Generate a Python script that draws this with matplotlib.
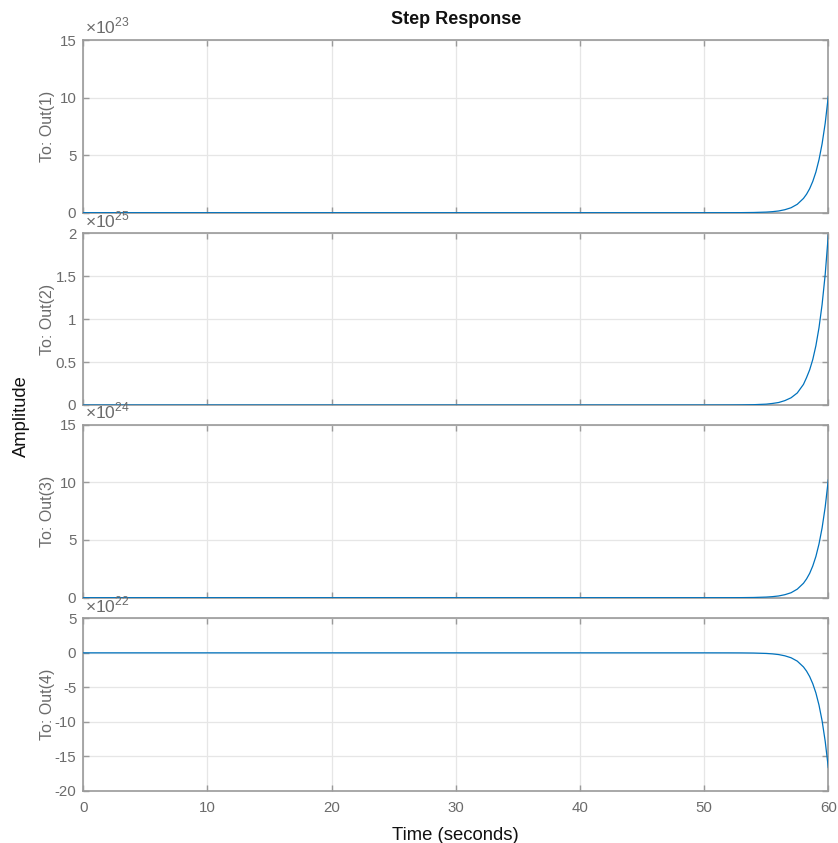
import matplotlib
matplotlib.use("Agg")
import matplotlib.pyplot as plt
from matplotlib.ticker import FuncFormatter

plt.rcParams['font.family'] = ['Liberation Sans', 'DejaVu Sans']
plt.rcParams['mathtext.fontset'] = 'custom'
plt.rcParams['mathtext.rm'] = 'Liberation Sans'

# ---- data ----
time_s = [0, 50, 52, 53, 54, 55, 55.5, 56, 56.5, 57, 57.5, 58, 58.25, 58.5,
          58.75, 59, 59.25, 59.5, 59.75, 60]
out1 = [0, 0.0003, 0.0023, 0.0065, 0.019, 0.053, 0.090, 0.15, 0.26, 0.43,
        0.73, 1.24, 1.61, 2.09, 2.72, 3.53, 4.60, 5.98, 7.77, 10.1]          # x1e23
out2 = [0, 0.00006, 0.00045, 0.0013, 0.0037, 0.010, 0.018, 0.029, 0.051,
        0.084, 0.14, 0.24, 0.32, 0.41, 0.53, 0.69, 0.90, 1.17, 1.52, 1.98]    # x1e25
out3 = [0, 0.0003, 0.0023, 0.0066, 0.019, 0.054, 0.091, 0.15, 0.26, 0.43,
        0.74, 1.25, 1.63, 2.11, 2.75, 3.57, 4.65, 6.04, 7.85, 10.2]          # x1e24
out4 = [0, -0.0005, -0.0038, -0.011, -0.031, -0.087, -0.148, -0.25, -0.43,
        -0.71, -1.20, -2.04, -2.65, -3.44, -4.47, -5.80, -7.56, -9.83, -12.8,
        -16.6]                                                                # x1e22
series = [out1, out2, out3, out4]
exponents = [23, 25, 24, 22]
ylims = [(0, 15), (0, 2), (0, 15), (-20, 5)]
yticks = [[0, 5, 10, 15], [0, 0.5, 1, 1.5, 2], [0, 5, 10, 15],
          [-20, -15, -10, -5, 0, 5]]
ylabels = ['To: Out(1)', 'To: Out(2)', 'To: Out(3)', 'To: Out(4)']
xticks = [0, 10, 20, 30, 40, 50, 60]

W, H = 838, 843
fig = plt.figure(figsize=(W / 100, H / 100), dpi=100)

# axes boxes in pixels (top, bottom)
boxes = [(40, 212.7), (233.3, 405), (424.5, 597.7), (618.3, 791)]
left_px, right_px = 83.3, 828.3

spine_c = '#9a9a9a'
text_c = '#6b6b6b'
line_c = '#0072BD'
grid_c = '#e6e6e6'

fmt = FuncFormatter(lambda v, p: ('%g' % v))

axes = []
for i, (top, bot) in enumerate(boxes):
    ax = fig.add_axes([left_px / W, 1 - bot / H, (right_px - left_px) / W, (bot - top) / H])
    ax.plot(time_s, series[i], color=line_c, lw=0.9, zorder=3)
    ax.set_xlim(0, 60)
    ax.set_ylim(*ylims[i])
    ax.set_xticks(xticks)
    ax.set_yticks(yticks[i])
    ax.yaxis.set_major_formatter(fmt)
    ax.grid(True, color=grid_c, lw=0.9, zorder=0)
    ax.set_axisbelow(True)
    for s in ax.spines.values():
        s.set_color(spine_c)
        s.set_linewidth(1.2)
    ax.tick_params(direction='in', length=4.5, width=1.0, color=spine_c,
                   labelcolor=text_c, labelsize=10.8, top=True, right=True,
                   pad=5)
    ax.tick_params(axis='x', pad=7)
    if i < 3:
        ax.tick_params(labelbottom=False)
    ax.set_ylabel(ylabels[i], color=text_c, fontsize=11.5)
    ax.yaxis.set_label_coords(-(left_px - 55) / (right_px - left_px), 0.5)
    ax.text(0.002, 1.018, r'$\times10^{%d}$' % exponents[i], transform=ax.transAxes,
            ha='left', va='bottom', color=text_c, fontsize=12.5)
    axes.append(ax)

axes[-1].set_xlabel('Time (seconds)', fontsize=13.3, color='#111111', labelpad=9)

fig.text((left_px + right_px) / 2 / W, 1 - 19.5 / H, 'Step Response', ha='center',
         va='center', fontsize=13, fontweight='bold', color='#111111')
fig.text(21 / W, 1 - 416 / H, 'Amplitude', ha='center', va='center',
         rotation=90, fontsize=13.2, color='#111111')

fig.savefig('out.png', dpi=100)
